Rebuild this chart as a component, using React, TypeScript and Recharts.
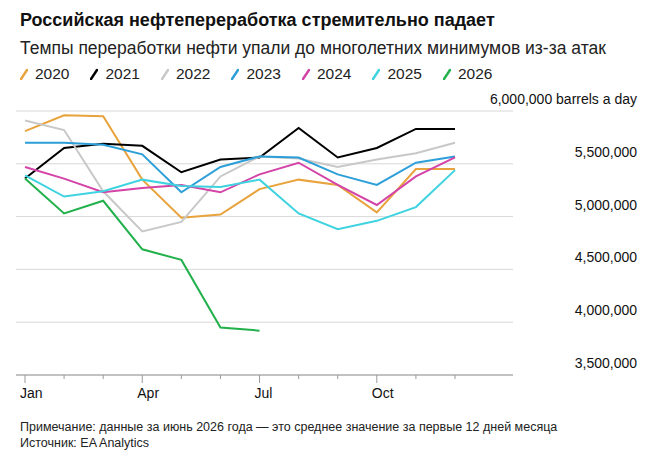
import { LineChart, Line, XAxis, YAxis, CartesianGrid } from "recharts";

const months = ["Jan", "Feb", "Mar", "Apr", "May", "Jun", "Jul", "Aug", "Sep", "Oct", "Nov", "Dec"];
const labeled = ["Jan", "Apr", "Jul", "Oct"];

const y2020 = [5.81, 5.96, 5.95, 5.35, 4.99, 5.02, 5.26, 5.35, 5.3, 5.04, 5.45, 5.45];
const y2021 = [5.36, 5.65, 5.69, 5.67, 5.42, 5.54, 5.56, 5.84, 5.56, 5.65, 5.83, 5.83];
const y2022 = [5.91, 5.82, 5.24, 4.86, 4.95, 5.38, 5.57, 5.55, 5.47, 5.54, 5.6, 5.7];
const y2023 = [5.7, 5.7, 5.68, 5.59, 5.23, 5.47, 5.57, 5.56, 5.4, 5.3, 5.51, 5.57];
const y2024 = [5.47, 5.36, 5.23, 5.27, 5.3, 5.23, 5.4, 5.51, 5.3, 5.11, 5.38, 5.56];
const y2025 = [5.39, 5.19, 5.24, 5.35, 5.29, 5.28, 5.35, 5.03, 4.88, 4.96, 5.09, 5.44];
const y2026 = [5.36, 5.03, 5.15, 4.69, 4.59, 3.95, 3.92];

const yTicks = [3500000, 4000000, 4500000, 5000000, 5500000, 6000000];

const series = [
  { key: "2020", color: "#e8a33d", values: y2020 },
  { key: "2021", color: "#000000", values: y2021 },
  { key: "2022", color: "#c8c8c8", values: y2022 },
  { key: "2023", color: "#2d9fd8", values: y2023 },
  { key: "2024", color: "#d444a8", values: y2024 },
  { key: "2025", color: "#3fd3e0", values: y2025 },
  { key: "2026", color: "#22b04b", values: y2026 },
];

const data = months.map((m, i) => {
  const row: Record<string, any> = { month: m };
  series.forEach((s) => {
    if (i < s.values.length) row[s.key] = s.values[i] * 1000000;
  });
  return row;
});

const font = "'Liberation Sans', Arial, sans-serif";
const narrow = "'Liberation Sans Narrow', 'Liberation Sans', Arial, sans-serif";

const MonthTick = (props: any) => {
  const { x, y, payload } = props;
  const major = labeled.includes(payload.value);
  return (
    <g>
      <line x1={x} x2={x} y1={y - 8} y2={y - 8 + (major ? 8 : 4)} stroke="#999" />
      {major && (
        <text x={x - 5} y={y + 15} fontSize={14} fontFamily={narrow} fill="#111">
          {payload.value}
        </text>
      )}
    </g>
  );
};

const ValueTick = (props: any) => {
  const { y, payload } = props;
  const txt = payload.value.toLocaleString("en-US") + (payload.value === 6000000 ? " barrels a day" : "");
  return (
    <text x={637} y={y - 7} textAnchor="end" fontSize={14} fontFamily={narrow} fill="#111">
      {txt}
    </text>
  );
};

export default function App() {
  return (
    <div style={{ position: "relative", width: 650, height: 460, marginLeft: -8, background: "#fff", fontFamily: font }}>
      <div style={{ position: "absolute", left: 20, top: 2, fontSize: 18, fontWeight: "bold", color: "#111" }}>
        Российская нефтепереработка стремительно падает
      </div>
      <div style={{ position: "absolute", left: 20, top: 30, fontSize: 17.5, color: "#222" }}>
        Темпы переработки нефти упали до многолетних минимумов из-за атак
      </div>
      <div style={{ position: "absolute", left: 20, top: 57, display: "flex", gap: 21, fontSize: 15.5, color: "#222" }}>
        {series.map((s) => (
          <span key={s.key} style={{ display: "flex", alignItems: "center", gap: 7 }}>
            <svg width={8} height={12}>
              <line x1={1} y1={11} x2={7} y2={2} stroke={s.color} strokeWidth={2.5} strokeLinecap="round" />
            </svg>
            {s.key}
          </span>
        ))}
      </div>
      <div style={{ position: "absolute", left: 0, top: 77 }}>
        <LineChart width={650} height={330} data={data} margin={{ top: 26, right: 13, left: 16, bottom: 20 }}>
          <CartesianGrid vertical={false} stroke="#d8d8d8" />
          <XAxis
            dataKey="month"
            interval={0}
            padding={{ left: 9, right: 58 }}
            tickLine={false}
            axisLine={{ stroke: "#999" }}
            tick={<MonthTick />}
            height={20}
          />
          <YAxis
            orientation="right"
            width={124}
            domain={[3500000, 6000000]}
            ticks={yTicks}
            axisLine={false}
            tickLine={false}
            tick={<ValueTick />}
          />
          {series.map((s) => (
            <Line
              key={s.key}
              dataKey={s.key}
              stroke={s.color}
              strokeWidth={2}
              dot={false}
              isAnimationActive={false}
            />
          ))}
        </LineChart>
      </div>
      <div style={{ position: "absolute", left: 20, top: 411, fontSize: 12.5, lineHeight: "16px", fontFamily: narrow, color: "#222" }}>
        Примечание: данные за июнь 2026 года — это среднее значение за первые 12 дней месяца
        <br />
        Источник: EA Analytics
      </div>
    </div>
  );
}
